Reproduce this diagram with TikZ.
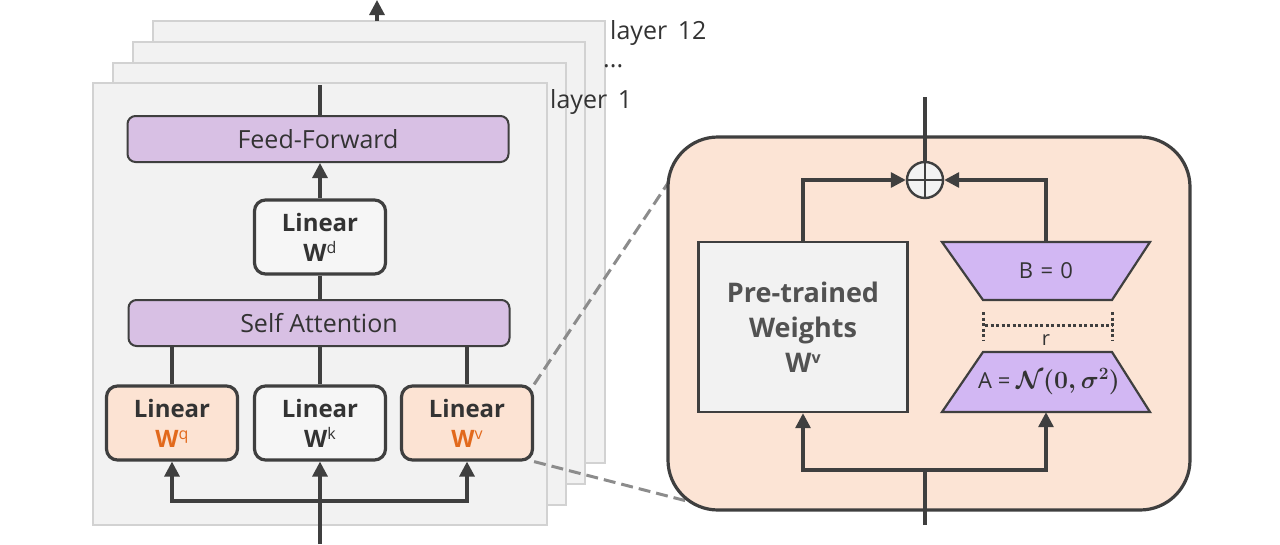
\documentclass[tikz,border=0pt]{standalone}
\usepackage{fontspec}
\setmainfont{Open Sans}
\usetikzlibrary{arrows.meta}
\definecolor{dark}{HTML}{3F3F3F}
\definecolor{txt}{HTML}{333333}
\definecolor{panelfill}{HTML}{F2F2F2}
\definecolor{panelborder}{HTML}{D2D2D2}
\definecolor{lilac}{HTML}{D8C0E4}
\definecolor{peach}{HTML}{FCE3D3}
\definecolor{lorafill}{HTML}{FCE4D5}
\definecolor{orangetxt}{HTML}{E2691C}
\definecolor{trapfill}{HTML}{D2B7F3}
\definecolor{boxwhite}{HTML}{F6F6F6}
\definecolor{dashgray}{HTML}{8C8C8C}
\newcommand{\Wsup}[1]{\textbf{W}\raisebox{0.6ex}{\fontsize{16}{16}\selectfont #1}}
\begin{document}
\begin{tikzpicture}[x=1pt,y=-1pt,
  line/.style={draw=dark, line width=3.2pt},
  arr/.style={line, -{Triangle[length=15pt,width=15pt]}},
  panel/.style={draw=panelborder, line width=1.4pt, fill=panelfill},
  purplebox/.style={draw=dark, line width=2pt, fill=lilac, rounded corners=8pt,
     minimum width=381, minimum height=46, inner sep=0pt, text=txt,
     font=\fontsize{25}{28}\selectfont},
  linbox/.style={draw=dark, line width=3.2pt, rounded corners=11pt,
     minimum width=131, minimum height=74, inner sep=0pt, align=center, text=txt,
     font=\fontsize{24}{30}\selectfont},
  layerlabel/.style={text=txt, inner sep=0pt, font=\fontsize{25}{28}\selectfont},
  trap/.style={draw=dark, line width=2.2pt, fill=trapfill, line join=miter},
  dashconn/.style={draw=dashgray, line width=3pt, dash pattern=on 12pt off 6pt},
  rdot/.style={draw=dark, line width=3pt, dash pattern=on 3pt off 2.5pt}
]
\useasboundingbox (0,0) rectangle (1280,544);

% ---- layer stack ----
\draw[panel] (153,21) rectangle (605,463);
\draw[panel] (133,42) rectangle (585,484);
\draw[panel] (113,63) rectangle (566,505);
\draw[panel] (93,83) rectangle (547,525);
\coordinate (stackTop) at (377,21);
\coordinate (stackOut) at (377,0);
\draw[arr] (stackTop) -- (stackOut);
\node[layerlabel, anchor=west] (l12) at (610,33) {layer\, 12};
\node[layerlabel, anchor=west] (ldots) at (603,66) {...};
\node[layerlabel, anchor=west] (l1) at (550,102) {layer\, 1};

% ---- transformer block ----
\node[purplebox] (FF) at (318,139) {Feed-Forward};
\node[linbox, fill=boxwhite] (Wd) at (320,237) {\textbf{Linear}\\\Wsup{d}};
\node[purplebox] (SA) at (319,323) {Self Attention};
\node[linbox, fill=peach] (Wq) at (172,423) {\textbf{Linear}\\\color{orangetxt}\Wsup{q}};
\node[linbox, fill=boxwhite] (Wk) at (320,423) {\textbf{Linear}\\\Wsup{k}};
\node[linbox, fill=peach] (Wv) at (467,423) {\textbf{Linear}\\\color{orangetxt}\Wsup{v}};

\coordinate (ffOut) at (320,85);
\draw[line] (FF.north -| ffOut) -- (ffOut);
\draw[arr] (Wd.north) -- (Wd.north |- FF.south);
\draw[line] (Wd.south) -- (Wd.south |- SA.north);
\draw[line] (Wq.north) -- (Wq.north |- SA.south);
\draw[line] (Wk.north) -- (Wk.north |- SA.south);
\draw[line] (Wv.north) -- (Wv.north |- SA.south);

\coordinate (inBot) at (320,544);
\coordinate (inSplit) at (320,501);
\draw[line] (inBot) -- (inSplit);
\draw[arr] (inSplit) -| (Wq.south);
\draw[arr] (inSplit) -- (Wk.south);
\draw[arr] (inSplit) -| (Wv.south);

% ---- LoRA panel ----
\coordinate (loraTL) at (672,177);
\coordinate (loraBL) at (710,507);
\draw[dashconn] (Wv.north east) -- (loraTL);
\draw[dashconn] (Wv.south east) -- (loraBL);
\draw[draw=dark, line width=3.2pt, fill=lorafill, rounded corners=50pt] (668,137) rectangle (1190,510);

\node[draw=dark, line width=2.4pt, fill=panelfill, minimum width=209, minimum height=170,
      inner sep=0pt, align=center, text=dark!90,
      font=\fontsize{27}{35}\selectfont\bfseries] (PT) at (803,327)
      {Pre-trained\\Weights\\\Wsup{v}};

\draw[trap] (942,242) -- (1150,242) -- (1112,300) -- (983,300) -- cycle;
\node[minimum width=129, minimum height=58, inner sep=0pt, text=txt,
      font=\fontsize{22}{24}\selectfont] (B) at (1046,271) {B\,\,=\,\,0};
\draw[trap] (983,352) -- (1112,352) -- (1150,412) -- (942,412) -- cycle;
\node[minimum width=129, minimum height=60, inner sep=0pt, text=txt,
      font=\fontsize{22}{24}\selectfont] (A) at (1046,382)
      {\hspace*{6pt}A = {\fontsize{26}{28}\selectfont\boldmath$\mathcal{N}(0,\sigma^2)$}};

% rank marker
\coordinate (rL) at (985,325);
\coordinate (rR) at (1112,325);
\draw[rdot] (rL) -- (rR);
\draw[rdot] (983,312) -- (983,340);
\draw[rdot] (1112,312) -- (1112,340);
\node[text=txt, inner sep=0pt, font=\fontsize{20}{20}\selectfont] (r) at (1046,340) {r};

% sum node
\node[circle, draw=dark, line width=2.4pt, fill=panelfill, minimum size=36, inner sep=0pt] (plus) at (925,180) {};
\draw[draw=dark, line width=2.4pt] (plus.north) -- (plus.south) (plus.west) -- (plus.east);
\coordinate (loraOut) at (925,97);
\draw[line] (plus.north) -- (loraOut);
\draw[arr] (PT.north) |- (plus.west);
\draw[arr] (B.north) |- (plus.east);

\coordinate (loraIn) at (925,525);
\coordinate (loraSplit) at (925,470);
\draw[line] (loraIn) -- (loraSplit);
\draw[arr] (loraSplit) -| (PT.south);
\draw[arr] (loraSplit) -| (A.south);
\end{tikzpicture}
\end{document}
